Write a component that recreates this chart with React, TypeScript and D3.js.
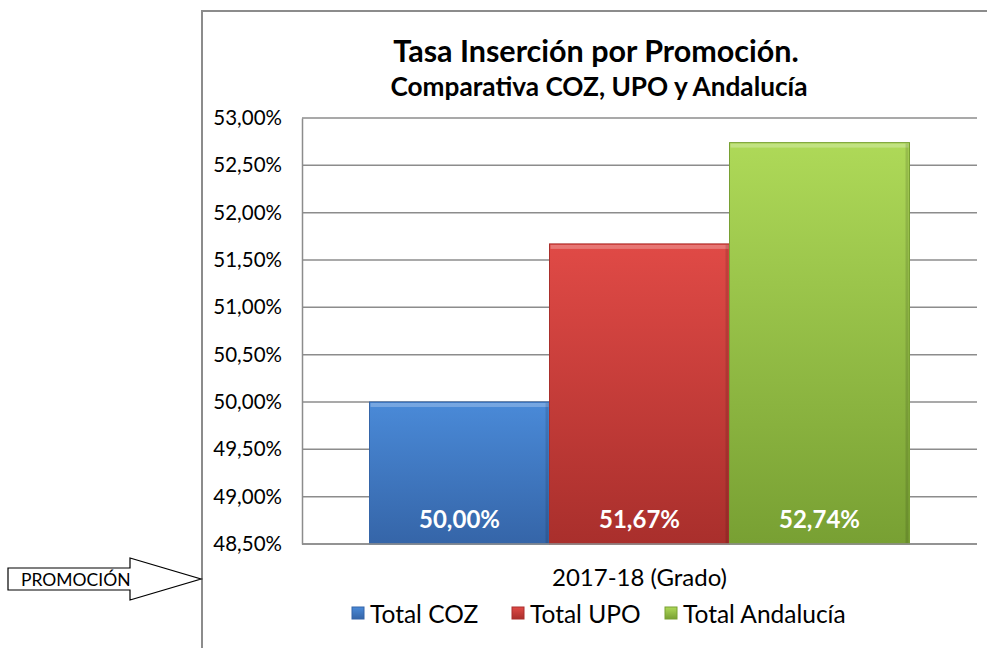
import React, { useEffect, useRef } from 'react';
import * as d3 from 'd3';

// data
const category = '2017-18 (Grado)';
const seriesNames = ['Total COZ', 'Total UPO', 'Total Andalucía'];
const seriesValues = [50.0, 51.67, 52.74];
const seriesColors = [
  ['#4a8ad8', '#3565a8'],
  ['#e04a46', '#a92f2c'],
  ['#aed958', '#78a033'],
];
const yTicks = [48.5, 49, 49.5, 50, 50.5, 51, 51.5, 52, 52.5, 53];

const fmt = (v: number) => v.toFixed(2).replace('.', ',') + '%';

export default function App() {
  const ref = useRef<SVGSVGElement>(null);

  useEffect(() => {
    drawChart();
  }, []);

  function drawChart() {
    const svgWidth = 987, svgHeight = 648;
    const margin = { top: 118, right: 10, bottom: 104, left: 302 };
    const width = svgWidth - margin.left - margin.right;
    const height = svgHeight - margin.top - margin.bottom;
    const font = 'Lato, "Open Sans", sans-serif';

    const svg = d3.select(ref.current);
    svg.selectAll('*').remove();
    svg.attr('width', svgWidth).attr('height', svgHeight);

    // gradients for the bars
    const defs = svg.append('defs');
    seriesColors.forEach((c, i) => {
      const grad = defs.append('linearGradient')
        .attr('id', 'grad' + i)
        .attr('x1', 0).attr('y1', 0).attr('x2', 0).attr('y2', 1);
      grad.append('stop').attr('offset', '0%').attr('stop-color', c[0]);
      grad.append('stop').attr('offset', '100%').attr('stop-color', c[1]);
    });

    // outer chart frame
    svg.append('rect')
      .attr('x', 202).attr('y', 11)
      .attr('width', 800).attr('height', 660)
      .attr('fill', '#fff')
      .attr('stroke', '#8c8c8c')
      .attr('stroke-width', 2);

    // title
    svg.append('text')
      .attr('x', 596).attr('y', 62)
      .attr('text-anchor', 'middle')
      .attr('font-family', font)
      .attr('font-weight', 'bold')
      .attr('font-size', 30.5)
      .text('Tasa Inserción por Promoción.');
    svg.append('text')
      .attr('x', 599).attr('y', 96)
      .attr('text-anchor', 'middle')
      .attr('font-family', font)
      .attr('font-weight', 'bold')
      .attr('font-size', 26.2)
      .text('Comparativa COZ, UPO y Andalucía');

    const g = svg.append('g')
      .attr('transform', 'translate(' + margin.left + ',' + margin.top + ')');

    const x0 = d3.scaleBand().domain([category]).range([0, width]).paddingInner(0).paddingOuter(0.125);
    const x1 = d3.scaleBand().domain(seriesNames).range([0, x0.bandwidth()]).padding(0);
    const y = d3.scaleLinear().domain([48.5, 53]).range([height, 0]);

    // gridlines
    g.append('g')
      .selectAll('line')
      .data(yTicks)
      .enter()
      .append('line')
      .attr('x1', 0).attr('x2', width)
      .attr('y1', d => y(d)).attr('y2', d => y(d))
      .attr('stroke', '#8c8c8c')
      .attr('stroke-width', 1.5);

    // y axis
    const yAxis = g.append('g')
      .call(d3.axisLeft(y).tickValues(yTicks).tickFormat(d => fmt(+d)).tickSize(0).tickPadding(20));
    yAxis.select('.domain').attr('stroke', '#8c8c8c').attr('stroke-width', 1.5);
    yAxis.selectAll('text')
      .attr('font-family', font)
      .attr('font-size', 20.5)
      .attr('fill', '#000');

    // bars
    const bx = x0(category) || 0;
    const bars = g.append('g')
      .selectAll('g')
      .data(seriesValues)
      .enter()
      .append('g');

    bars.append('rect')
      .attr('x', (d, i) => bx + (x1(seriesNames[i]) || 0))
      .attr('y', d => y(d))
      .attr('width', x1.bandwidth())
      .attr('height', d => height - y(d))
      .attr('fill', (d, i) => 'url(#grad' + i + ')')
      .attr('stroke', (d, i) => seriesColors[i][1])
      .attr('stroke-width', 1);

    // bevel highlight on top edge, shade on the right edge
    bars.append('rect')
      .attr('x', (d, i) => bx + (x1(seriesNames[i]) || 0) + 1)
      .attr('y', d => y(d) + 1)
      .attr('width', x1.bandwidth() - 2)
      .attr('height', 4)
      .attr('fill', '#fff')
      .attr('opacity', 0.25);
    bars.append('rect')
      .attr('x', (d, i) => bx + (x1(seriesNames[i]) || 0) + x1.bandwidth() - 4)
      .attr('y', d => y(d) + 1)
      .attr('width', 3)
      .attr('height', d => height - y(d) - 2)
      .attr('fill', '#000')
      .attr('opacity', 0.12);

    // data labels
    bars.append('text')
      .attr('x', (d, i) => bx + (x1(seriesNames[i]) || 0) + x1.bandwidth() / 2)
      .attr('y', height - 16)
      .attr('text-anchor', 'middle')
      .attr('font-family', font)
      .attr('font-weight', 'bold')
      .attr('font-size', 24)
      .attr('fill', '#fff')
      .text(d => fmt(d));

    // bottom axis line
    g.append('line')
      .attr('x1', 0).attr('x2', width)
      .attr('y1', height).attr('y2', height)
      .attr('stroke', '#8c8c8c')
      .attr('stroke-width', 1.5);

    // category label
    g.append('text')
      .attr('x', x0(category)! + x0.bandwidth() / 2)
      .attr('y', height + 42)
      .attr('text-anchor', 'middle')
      .attr('font-family', font)
      .attr('font-size', 24)
      .text(category);

    // legend
    const legendX = [352, 512, 665];
    const legend = svg.append('g')
      .selectAll('g')
      .data(seriesNames)
      .enter()
      .append('g')
      .attr('transform', (d, i) => 'translate(' + legendX[i] + ',607)');
    legend.append('rect')
      .attr('width', 12).attr('height', 12)
      .attr('fill', (d, i) => 'url(#grad' + i + ')')
      .attr('stroke', (d, i) => seriesColors[i][1]);
    legend.append('text')
      .attr('x', 18).attr('y', 16)
      .attr('font-family', font)
      .attr('font-size', 24.5)
      .text(d => d);

    // PROMOCIÓN arrow
    svg.append('path')
      .attr('d', 'M8,568 L130,568 L130,558 L201,579 L130,600 L130,590 L8,590 Z')
      .attr('fill', '#fff')
      .attr('stroke', '#000')
      .attr('stroke-width', 1.2);
    svg.append('text')
      .attr('x', 21).attr('y', 586)
      .attr('font-family', font)
      .attr('font-size', 17.5)
      .text('PROMOCIÓN');
  }

  return (
    <div style={{ position: 'absolute', left: 0, top: 0 }}>
      <svg ref={ref} style={{ display: 'block' }}></svg>
    </div>
  );
}
